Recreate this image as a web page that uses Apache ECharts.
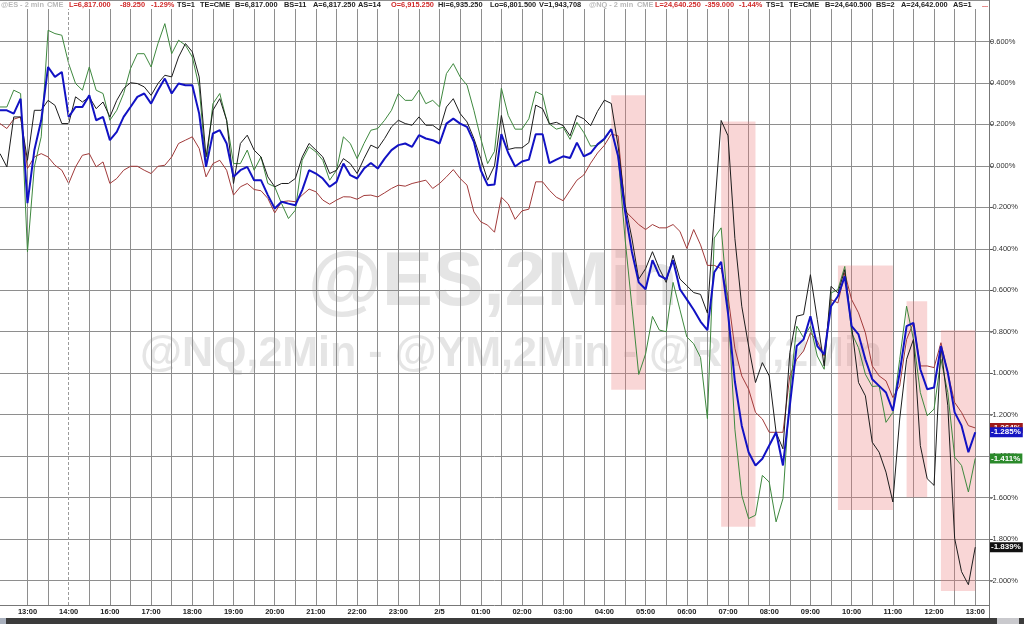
<!DOCTYPE html>
<html>
<head>
<meta charset="utf-8">
<title>@ES,2Min</title>
<script src="https://cdn.jsdelivr.net/npm/echarts@6/dist/echarts.min.js"></script>
<style>
  html, body { margin: 0; padding: 0; background: #fff; }
  #chart { width: 1024px; height: 624px; }
</style>
</head>
<body>
<div id="chart"></div>
<script>
// % change per 10-minute slot, 12:20 (2/4) -> 13:00 (2/5)
const esPct = [
  0.268, 0.268, 0.252, 0.324, -0.18, 0.075, 0.22, 0.477, 0.429, 0.453,
  0.236, 0.284, 0.284, 0.34, 0.22, 0.236, 0.124, 0.164, 0.236, 0.284,
  0.333, 0.349, 0.30, 0.365, 0.421, 0.349, 0.397, 0.389, 0.389, 0.252,
  -0.005, 0.156, 0.172, 0.108, -0.053, -0.021, -0.005, -0.069, -0.069, -0.141,
  -0.206, -0.173, -0.182, -0.19, -0.117, -0.021, -0.037, -0.061, -0.101, -0.077,
  0.011, -0.045, -0.061, -0.013, 0.014, -0.013, 0.035, 0.076, 0.1, 0.108,
  0.092, 0.148, 0.132, 0.124, 0.108, 0.204, 0.228, 0.204, 0.188, 0.116,
  -0.021, -0.093, -0.09, 0.153, 0.062, -0.003, 0.021, 0.03, 0.153, 0.153,
  0.013, 0.03, 0.046, 0.038, 0.112, 0.046, 0.062, 0.104, 0.131, 0.177,
  0.046, -0.217, -0.414, -0.562, -0.595, -0.455, -0.529, -0.546, -0.455, -0.595,
  -0.644, -0.694, -0.751, -0.792, -0.513, -0.463, -0.71, -1.04, -1.253, -1.381,
  -1.445, -1.413, -1.349, -1.285, -1.445, -1.157, -0.869, -0.837, -0.725, -0.869,
  -0.909, -0.677, -0.629, -0.533, -0.773, -0.813, -0.933, -1.029, -1.061, -1.093,
  -1.181, -0.997, -0.773, -0.757, -0.981, -1.077, -1.069, -0.869, -0.997, -1.189,
  -1.253, -1.381, -1.285
]
const nqPct = [
  0.284, 0.284, 0.365, 0.349, -0.414, -0.005, 0.14, 0.654, 0.638, 0.63,
  0.493, 0.397, 0.365, 0.477, 0.365, 0.349, 0.22, 0.268, 0.349, 0.469,
  0.541, 0.541, 0.477, 0.59, 0.686, 0.541, 0.606, 0.582, 0.525, 0.381,
  -0.005, 0.30, 0.349, 0.22, 0.011, 0.011, 0.076, -0.021, 0.043, -0.085,
  -0.101, -0.182, -0.254, -0.214, 0.027, 0.092, 0.067, 0.027, -0.069, -0.021,
  0.14, 0.108, 0.035, 0.108, 0.172, 0.18, 0.22, 0.268, 0.349, 0.316,
  0.316, 0.365, 0.30, 0.316, 0.284, 0.445, 0.493, 0.429, 0.389, 0.268,
  0.132, 0.011, 0.07, 0.375, 0.243, 0.177, 0.177, 0.227, 0.358, 0.342,
  0.202, 0.177, 0.186, 0.128, 0.21, 0.161, 0.095, 0.099, 0.125, 0.177,
  0.046, -0.348, -0.677, -1.006, -0.907, -0.726, -0.792, -0.8, -0.562, -0.694,
  -0.825, -0.858, -0.924, -1.219, -0.348, -0.299, -0.677, -1.27, -1.589, -1.701,
  -1.685, -1.493, -1.525, -1.717, -1.605, -1.093, -0.773, -0.829, -0.773, -0.917,
  -0.981, -0.613, -0.597, -0.485, -0.805, -0.877, -1.005, -1.064, -1.061, -1.237,
  -1.189, -0.933, -0.677, -0.837, -1.093, -1.205, -1.173, -0.933, -1.093, -1.405,
  -1.445, -1.573, -1.411
]
const ymPct = [
  0.204, 0.18, 0.225, 0.236, -0.013, 0.043, 0.059, 0.043, 0.003, -0.021,
  -0.085, -0.005, 0.051, 0.059, -0.005, 0.019, -0.085, -0.061, -0.021, -0.002,
  -0.002, -0.021, -0.037, -0.002, 0.003, 0.043, 0.108, 0.124, 0.14, 0.084,
  -0.053, 0.011, 0.027, -0.021, -0.141, -0.101, -0.085, -0.114, -0.12, -0.157,
  -0.227, -0.173, -0.169, -0.173, -0.141, -0.112, -0.125, -0.165, -0.185, -0.165,
  -0.149, -0.15, -0.161, -0.143, -0.141, -0.15, -0.13, -0.109, -0.093, -0.098,
  -0.085, -0.077, -0.069, -0.109, -0.085, -0.053, -0.018, -0.061, -0.093, -0.222,
  -0.27, -0.286, -0.32, -0.151, -0.184, -0.258, -0.217, -0.209, -0.077, -0.077,
  -0.118, -0.151, -0.168, -0.118, -0.069, -0.044, 0.013, 0.062, 0.099, 0.153,
  0.145, -0.217, -0.25, -0.283, -0.307, -0.283, -0.299, -0.299, -0.283, -0.316,
  -0.398, -0.307, -0.381, -0.48, -0.48, -0.496, -0.628, -0.88, -1.013, -1.077,
  -1.189, -1.221, -1.285, -1.285, -1.285, -1.013, -0.933, -0.893, -0.805, -0.845,
  -0.917, -0.645, -0.661, -0.517, -0.645, -0.709, -0.805, -0.965, -1.013, -1.037,
  -1.117, -1.061, -0.837, -0.757, -0.965, -0.965, -0.973, -0.853, -0.997, -1.141,
  -1.189, -1.253, -1.264
]
const rtyPct = [
  0.059, -0.005, 0.236, 0.236, 0.027, 0.268, 0.268, 0.316, 0.292, 0.204,
  0.204, 0.333, 0.308, 0.333, 0.276, 0.308, 0.236, 0.316, 0.373, 0.401,
  0.397, 0.381, 0.34, 0.397, 0.437, 0.429, 0.525, 0.59, 0.55, 0.429,
  0.043, 0.268, 0.324, 0.22, -0.085, 0.108, 0.148, 0.076, 0.043, -0.053,
  -0.101, -0.085, -0.085, -0.061, 0.043, 0.108, 0.076, 0.043, -0.037, -0.021,
  0.035, 0.011, -0.037, 0.035, 0.1, 0.084, 0.132, 0.188, 0.22, 0.204,
  0.196, 0.236, 0.196, 0.196, 0.172, 0.284, 0.324, 0.252, 0.212, 0.132,
  0.035, -0.069, 0.0, 0.243, 0.079, 0.087, 0.087, 0.112, 0.293, 0.276,
  0.202, 0.21, 0.194, 0.145, 0.243, 0.227, 0.194, 0.263, 0.317, 0.301,
  0.095, -0.184, -0.348, -0.546, -0.496, -0.414, -0.496, -0.562, -0.431, -0.546,
  -0.578, -0.611, -0.62, -0.71, -0.233, 0.219, 0.145, -0.35, -0.677, -0.869,
  -1.045, -0.949, -1.013, -1.285, -1.365, -0.901, -0.725, -0.717, -0.525, -0.741,
  -0.965, -0.581, -0.613, -0.501, -0.773, -1.045, -1.109, -1.333, -1.381, -1.477,
  -1.621, -1.221, -0.933, -0.837, -1.349, -1.509, -1.541, -0.869, -1.157, -1.797,
  -1.957, -2.02, -1.839
]

// shaded selloff windows: [fromSlot, toSlot, top %, bottom %]
const highlightBoxes = [
  [89, 94, 0.34, -1.08],
  [105, 110, 0.214, -1.74],
  [122, 130, -0.48, -1.66],
  [132, 135, -0.653, -1.598],
  [137, 142, -0.793, -2.05]
]

const sessionBreakSlot = 10 // 14:00, dashed line

// x axis: 10-minute slots, 12:20 on 2/4 to 13:20 on 2/5; the 15:00 hour is not traded
const slotCount = 145
function pad(n) { return (n < 10 ? '0' : '') + n }
const slots = []
for (let i = 0; i < slotCount; i++) {
  let m = 12 * 60 + 20 + 10 * i + (i >= 16 ? 60 : 0)
  const day = m >= 1440 ? '2/5' : '2/4'
  m = m % 1440
  slots.push(day + ' ' + pad(Math.floor(m / 60)) + ':' + pad(m % 60))
}

function timeLabel(value) {
  const t = value.split(' ')[1]
  return t === '00:00' ? '2/5' : t
}

const chart = echarts.init(document.getElementById('chart'))

const lineSeries = [
  { name: '@YM', data: ymPct, color: '#a13a3a', box: '#9e1b1b', width: 1 },
  { name: '@NQ', data: nqPct, color: '#3e883e', box: '#2b8a2b', width: 1 },
  { name: '@RTY', data: rtyPct, color: '#1c1c1c', box: '#111111', width: 1 },
  { name: '@ES', data: esPct, color: '#1212c4', box: '#1616c2', width: 2 }
]

const gridColor = '#8e8e8e'

const series = lineSeries.map(function (s, idx) {
  const out = {
    name: s.name,
    type: 'line',
    xAxisIndex: 0,
    yAxisIndex: 0,
    data: s.data,
    symbol: 'none',
    lineStyle: { color: s.color, width: s.width },
    itemStyle: { color: s.color },
    markLine: {
      silent: true,
      precision: 3,
      symbol: ['none', 'none'],
      lineStyle: { color: 'rgba(0,0,0,0)', width: 1, type: 'solid' },
      label: {
        show: true,
        position: 'end',
        distance: 1,
        formatter: function (p) { return Number(p.value).toFixed(3) + '%' },
        backgroundColor: s.box,
        color: '#fff',
        fontFamily: 'Liberation Sans',
        fontSize: 8,
        fontWeight: 'bold',
        padding: [1, 2, 1, 1]
      },
      data: [{ yAxis: s.data[s.data.length - 1] }]
    }
  }
  if (idx === 0) {
    out.markArea = {
      silent: true,
      itemStyle: { color: 'rgba(236,118,118,0.3)' },
      data: highlightBoxes.map(function (b) {
        return [{ xAxis: b[0], yAxis: b[2] }, { xAxis: b[1], yAxis: b[3] }]
      })
    }
  }
  return out
})

// empty series on the label grid that only carries the session-break line
series.push({
  type: 'line',
  xAxisIndex: 1,
  yAxisIndex: 1,
  data: [],
  markLine: {
    silent: true,
    symbol: ['none', 'none'],
    label: { show: false },
    lineStyle: { color: '#9a9a9a', type: [3, 2], width: 1 },
    data: [{ xAxis: sessionBreakSlot }]
  }
})

const red = '#d02a2a', dark = '#222', gray = '#b8b8b8'
const header = [
  ['@ES - 2 min', 1, gray], ['CME', 47, gray],
  ['L=6,817.000', 69, red], ['-89.250', 120, red], ['-1.29%', 151, red],
  ['TS=1', 177, dark], ['TE=CME', 200, dark], ['B=6,817.000', 235, dark],
  ['BS=11', 284, dark], ['A=6,817.250', 313, dark], ['AS=14', 358, dark],
  ['O=6,915.250', 391, red], ['Hi=6,935.250', 438, dark], ['Lo=6,801.500', 490, dark],
  ['V=1,943,708', 539, dark], ['@NQ - 2 min', 589, gray], ['CME', 637, gray],
  ['L=24,640.250', 655, red], ['-359.000', 705, red], ['-1.44%', 739, red],
  ['TS=1', 766, dark], ['TE=CME', 789, dark], ['B=24,640.500', 825, dark],
  ['BS=2', 876, dark], ['A=24,642.000', 901, dark], ['AS=1', 953, dark],
  ['...', 982, red]
]

const graphics = [
  {
    type: 'text', left: 308, top: 246, z: -5, silent: true,
    style: { text: '@ES,2Min', fill: '#e5e5e5', font: 'bold 76px "Liberation Sans"' }
  },
  {
    type: 'text', left: 140, top: 333, z: -5, silent: true,
    style: { text: '@NQ,2Min - @YM,2Min - @RTY,2Min', fill: '#e5e5e5', font: 'bold 43px "Liberation Sans"' }
  },
  { type: 'rect', left: 0, top: 618, z: 100, shape: { width: 1024, height: 6 }, style: { fill: '#3b3b3b' } },
  { type: 'rect', left: 0, top: 618, z: 101, shape: { width: 6, height: 6 }, style: { fill: '#a9b0bd' } },
  { type: 'rect', left: 997, top: 618, z: 101, shape: { width: 22, height: 6 }, style: { fill: '#c9c9cd' } }
]
header.forEach(function (h) {
  graphics.push({
    type: 'text', left: h[1], top: 1, z: 50, silent: true,
    style: { text: h[0], fill: h[2], font: 'bold 7.4px "Liberation Sans"' }
  })
})

chart.setOption({
  animation: false,
  backgroundColor: '#fff',
  grid: [
    { left: 0, right: 35, top: 0, bottom: 2 },
    { left: 0, right: 35, top: 9, bottom: 19 }
  ],
  xAxis: [
    { gridIndex: 0, type: 'category', data: slots, boundaryGap: false, show: false },
    {
      gridIndex: 1,
      type: 'category',
      data: slots,
      boundaryGap: false,
      axisLine: { lineStyle: { color: '#777' } },
      axisTick: { show: false },
      axisLabel: {
        interval: function (i, v) { return v.slice(-3) === ':00' },
        formatter: timeLabel,
        color: '#222',
        fontFamily: 'Liberation Sans',
        fontWeight: 'bold',
        fontSize: 7.5,
        margin: 3
      },
      splitLine: {
        show: true,
        interval: function (i) { return i >= 4 && (i - 4) % 3 === 0 && i !== sessionBreakSlot },
        lineStyle: { color: gridColor, width: 1 }
      }
    }
  ],
  yAxis: [
    {
      gridIndex: 0,
      type: 'value',
      position: 'right',
      min: -2.2,
      max: 0.8,
      interval: 0.2,
      axisLine: { show: true, lineStyle: { color: '#777' } },
      axisTick: { show: true, length: 4, lineStyle: { color: '#777' } },
      axisLabel: {
        showMinLabel: false,
        showMaxLabel: false,
        margin: 1,
        color: '#333',
        fontFamily: 'Liberation Sans',
        fontSize: 7.5,
        formatter: function (v) { return v.toFixed(3) + '%' }
      },
      splitLine: { lineStyle: { color: gridColor, width: 1 } }
    },
    { gridIndex: 1, type: 'value', min: 0, max: 1, show: false }
  ],
  graphic: graphics,
  series: series
})
</script>
</body>
</html>
